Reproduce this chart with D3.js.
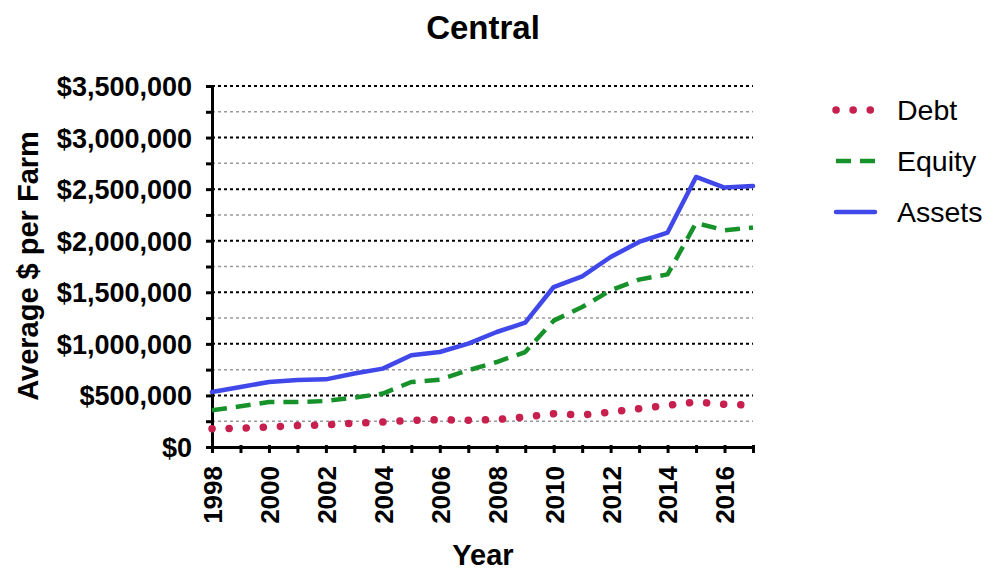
<!DOCTYPE html>
<html><head><meta charset="utf-8">
<script src="https://cdn.jsdelivr.net/npm/d3@7"></script>
<style>body{margin:0;background:#fff}svg{display:block}text{font-family:"Liberation Sans",Arial,sans-serif}</style>
</head><body>
<svg id="c" width="988" height="571"></svg>
<script>
const years = d3.range(1998, 2018);
const debt   = [178000,182000,194000,208000,214000,230000,242000,258000,265000,260000,266000,290000,322000,310000,338000,372000,404000,436000,414000,406000];
const equity = [356000,395000,436000,436000,446000,479000,518000,630000,653000,744000,824000,921000,1225000,1357000,1519000,1623000,1674000,2172000,2101000,2127000];
const assets = [533000,582000,630000,650000,656000,712000,760000,889000,921000,1002000,1115000,1206000,1551000,1655000,1842000,1988000,2079000,2618000,2515000,2530000];
const xTickLabels = [1998,2000,2002,2004,2006,2008,2010,2012,2014,2016];
const yTicks = [0,500000,1000000,1500000,2000000,2500000,3000000,3500000];
const seriesNames = ["Debt","Equity","Assets"];
const seriesColors = ["#C8204E","#17922B","#4048EA"];

const svg = d3.select("#c");
const L = 212, R = 753, T = 86, B = 447;
const x = d3.scaleLinear().domain([1998, 2017]).range([L, R]);
const y = d3.scaleLinear().domain([0, 3500000]).range([B, T]);

// gridlines
const minor = d3.range(250000, 3500000, 500000);
svg.append("g").selectAll("line").data(minor).join("line")
  .attr("x1", L).attr("x2", R).attr("y1", d => y(d)).attr("y2", d => y(d))
  .attr("stroke", "#999").attr("stroke-width", 1.5).attr("stroke-dasharray", "3,3");
svg.append("g").selectAll("line").data(yTicks.filter(d => d > 0)).join("line")
  .attr("x1", L).attr("x2", R).attr("y1", d => y(d)).attr("y2", d => y(d))
  .attr("stroke", "#000").attr("stroke-width", 2).attr("stroke-dasharray", "3,3");

// axes
const fmt = d => "$" + d3.format(",")(d);
const ya = svg.append("g").attr("transform", `translate(${L},0)`)
  .call(d3.axisLeft(y).tickValues(yTicks).tickFormat(fmt).tickSize(6).tickPadding(14));
const yaMinor = svg.append("g").attr("transform", `translate(${L},0)`)
  .call(d3.axisLeft(y).tickValues(minor).tickFormat("").tickSize(6));
[ya, yaMinor].forEach(g => {
  g.select(".domain").attr("stroke", "#000").attr("stroke-width", 3);
  g.selectAll(".tick line").attr("stroke", "#000").attr("stroke-width", 3).attr("x2", -6).attr("x1", 2);
});
ya.selectAll("text").attr("font-size", 27).attr("font-weight", "bold").attr("fill", "#000").attr("dy", "0.35em");

const xa = svg.append("g").attr("transform", `translate(0,${B})`)
  .call(d3.axisBottom(x).tickValues(years).tickFormat(d => xTickLabels.includes(d) ? d : "").tickSize(6).tickSizeOuter(0));
xa.select(".domain").attr("stroke", "#000").attr("stroke-width", 3);
xa.selectAll(".tick line").attr("stroke", "#000").attr("stroke-width", 3).attr("y1", -2);
xa.selectAll("text").attr("font-size", 26).attr("font-weight", "bold").attr("fill", "#000")
  .attr("transform", "rotate(-90)").attr("text-anchor", "end").attr("x", -19).attr("y", 0).attr("dy", "0.36em");

// lines
const line = d3.line().x((d, i) => x(years[i])).y(d => y(d));
const dashes = [
  {dash: "0.1,17", cap: "round", w: 7.5},
  {dash: "15,9", cap: "butt", w: 4.5},
  {dash: null, cap: "round", w: 4.5}
];
[debt, equity, assets].forEach((s, k) => {
  svg.append("path").datum(s).attr("d", line).attr("fill", "none")
    .attr("stroke", seriesColors[k]).attr("stroke-width", dashes[k].w)
    .attr("stroke-linecap", dashes[k].cap).attr("stroke-linejoin", "round")
    .attr("stroke-dasharray", dashes[k].dash);
});

// title and axis titles
svg.append("text").attr("x", 483).attr("y", 39).attr("text-anchor", "middle")
  .attr("font-size", 33).attr("font-weight", "bold").text("Central");
svg.append("text").attr("x", 483).attr("y", 565).attr("text-anchor", "middle")
  .attr("font-size", 29).attr("font-weight", "bold").text("Year");
svg.append("text").attr("transform", "translate(38,266) rotate(-90)").attr("text-anchor", "middle")
  .attr("font-size", 29).attr("font-weight", "bold").text("Average $ per Farm");

// legend
const leg = svg.append("g");
seriesNames.forEach((n, k) => {
  const ly = 110 + k * 51;
  leg.append("line").attr("x1", 836).attr("x2", 875).attr("y1", ly).attr("y2", ly)
    .attr("stroke", seriesColors[k]).attr("stroke-width", dashes[k].w)
    .attr("stroke-linecap", dashes[k].cap).attr("stroke-dasharray", k === 0 ? "0.1,17" : (k === 1 ? "15,9" : null));
  leg.append("text").attr("x", 897).attr("y", ly).attr("dy", "0.35em")
    .attr("font-size", 28.5).attr("fill", "#000").text(n);
});
</script>
</body></html>
